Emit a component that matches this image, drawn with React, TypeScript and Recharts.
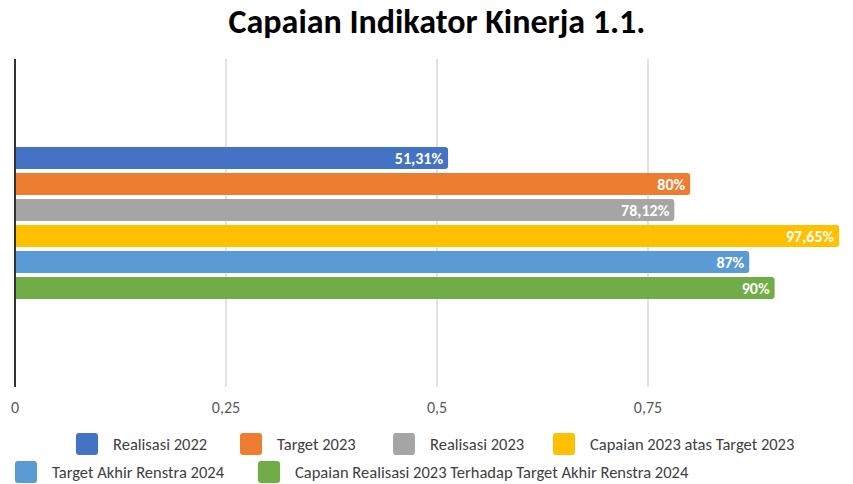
import { Bar, BarChart, CartesianGrid, LabelList, XAxis, YAxis } from "recharts"

const category = ["Indikator 1.1"]
const seriesNames = [
  "Realisasi 2022",
  "Target 2023",
  "Realisasi 2023",
  "Capaian 2023 atas Target 2023",
  "Target Akhir Renstra 2024",
  "Capaian Realisasi 2023 Terhadap Target Akhir Renstra 2024",
]
const seriesValues = [0.5131, 0.8, 0.7812, 0.9765, 0.87, 0.9]
const colors = ["#4472c4", "#ed7d31", "#a5a5a5", "#ffc000", "#5b9bd5", "#70ad47"]
const xTicks = [0, 0.25, 0.5, 0.75]

const data = category.map((name) => {
  const row: Record<string, string | number> = { name }
  seriesValues.forEach((v, i) => {
    row["s" + i] = v
  })
  return row
})

const font = "Calibri, Carlito, 'Open Sans', sans-serif"

const pct = (v: unknown) => {
  const n = Math.round(Number(v) * 10000) / 100
  return String(n).replace(".", ",") + "%"
}

// legend rows as in the original (2 rows, second row starts at the left)
const legendRows = [
  { top: 432, items: [0, 1, 2, 3], lefts: [76, 240, 393, 553] },
  { top: 460, items: [4, 5], lefts: [15, 258] },
]

export default function App() {
  return (
    <div style={{ position: "fixed", top: 0, left: 0, width: 853, height: 484, overflow: "hidden", background: "#fff", fontFamily: font }}>
      <div
        style={{
          position: "absolute",
          top: 1,
          left: 15,
          width: 844,
          textAlign: "center",
          fontSize: 34,
          fontWeight: 700,
          color: "#000",
        }}
      >
        Capaian Indikator Kinerja 1.1.
      </div>
      <BarChart
        width={870}
        height={484}
        data={data}
        layout="vertical"
        margin={{ top: 59, right: 11, bottom: 67, left: 15 }}
        barSize={22}
        barGap={4}
      >
        <CartesianGrid horizontal={false} stroke="#d9d9d9" strokeWidth={1.5} />
        <XAxis
          type="number"
          domain={[0, 1]}
          ticks={xTicks}
          axisLine={false}
          tickLine={false}
          tickMargin={9}
          tickFormatter={(v: number) => String(v).replace(".", ",")}
          tick={{ fill: "#595959", fontSize: 16, fontFamily: font }}
          height={30}
        />
        <YAxis type="category" dataKey="name" hide />
        {seriesValues.map((_, i) => (
          <Bar
            key={i}
            dataKey={"s" + i}
            name={seriesNames[i]}
            fill={colors[i]}
            radius={[0, 3, 3, 0]}
            isAnimationActive={false}
          >
            <LabelList
              dataKey={"s" + i}
              position="insideRight"
              formatter={pct}
              fill="#fff"
              fontSize={16}
              fontWeight={700}
              fontFamily={font}
              offset={5}
            />
          </Bar>
        ))}
      </BarChart>
      <div style={{ position: "absolute", left: 14, top: 59, width: 2, height: 328, background: "#333" }} />
      {legendRows.map((row, r) =>
        row.items.map((idx, k) => (
          <div
            key={r + "-" + k}
            style={{
              position: "absolute",
              top: row.top,
              left: row.lefts[k],
              display: "flex",
              alignItems: "center",
              height: 23,
              lineHeight: "20px",
              whiteSpace: "nowrap",
            }}
          >
            <span
              style={{
                display: "inline-block",
                width: 22,
                height: 22,
                borderRadius: 3,
                background: colors[idx],
                marginRight: 15,
              }}
            />
            <span style={{ fontSize: 16.5, color: "#404040" }}>{seriesNames[idx]}</span>
          </div>
        ))
      )}
    </div>
  )
}
